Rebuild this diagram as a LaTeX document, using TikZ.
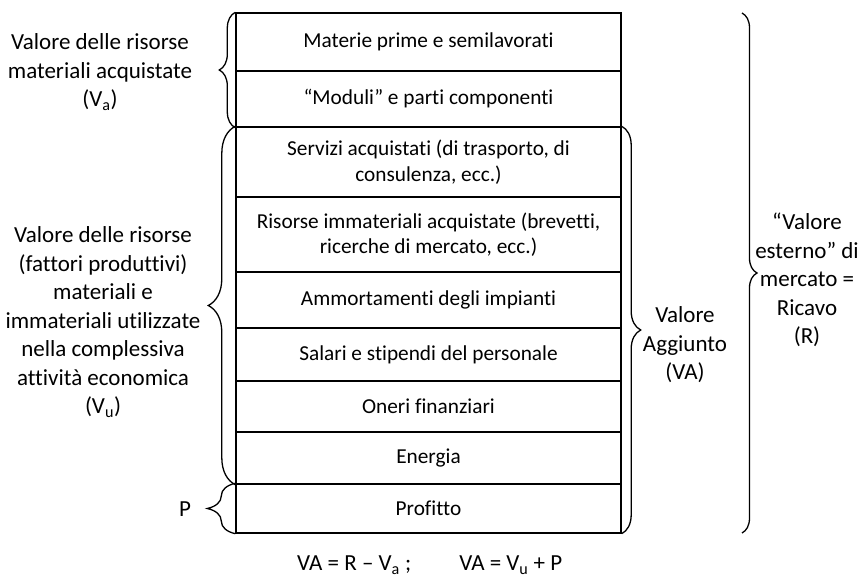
\documentclass[tikz,border=0pt]{standalone}
\usepackage{fontspec}
\setmainfont{Carlito}[Ligatures=NoCommon]
\usetikzlibrary{decorations.pathreplacing}

\tikzset{
  strato/.style={font=\fontsize{21.3}{25.5}\selectfont, draw, line width=1.4pt, minimum width=385pt, inner sep=0pt, align=center},
  etichetta/.style={font=\fontsize{23}{28.5}\selectfont, align=center, inner sep=0pt},
  graffa/.style={decorate, decoration={brace, amplitude=#1}, line width=1.3pt},
}

\begin{document}
\begin{tikzpicture}[x=1pt, y=-1pt]
  \useasboundingbox (0,0) rectangle (863,585);
  % strati del ricavo
  \node[strato, minimum height=58pt] (mat) at (428.5,42) {Materie prime e semilavorati};
  \node[strato, minimum height=56pt] (mod) at (428.5,99) {“Moduli” e parti componenti};
  \node[strato, minimum height=70pt] (serv) at (428.5,162) {Servizi acquistati (di trasporto, di\\consulenza, ecc.)};
  \node[strato, minimum height=75pt] (imm) at (428.5,234.5) {Risorse immateriali acquistate (brevetti,\\ricerche di mercato, ecc.)};
  \node[strato, minimum height=56pt] (amm) at (428.5,300) {Ammortamenti degli impianti};
  \node[strato, minimum height=53pt] (sal) at (428.5,354.5) {Salari e stipendi del personale};
  \node[strato, minimum height=51pt] (oneri) at (428.5,406.5) {Oneri finanziari};
  \node[strato, minimum height=52pt] (ener) at (428.5,458) {Energia};
  \node[strato, minimum height=49pt] (prof) at (428.5,508.5) {Profitto};
  % graffe
  \coordinate (rtop) at (742,13);
  \coordinate (rbot) at (742,533);
  \draw[graffa=16pt] (mod.south west) -- (mat.north west);
  \draw[graffa=27pt] (ener.south west) -- (serv.north west);
  \draw[graffa=28pt] (prof.south west) -- (prof.north west);
  \draw[graffa=19pt] (serv.north east) -- (prof.south east);
  \draw[graffa=15pt] (rtop) -- (rbot);
  % etichette
  \node[etichetta] (va) at (100,72) {Valore delle risorse\\materiali acquistate\\(V\textsubscript{a})};
  \node[etichetta] (vu) at (103,322) {Valore delle risorse\\(fattori produttivi)\\materiali e\\immateriali utilizzate\\nella complessiva\\attività economica\\(V\textsubscript{u})};
  \node[etichetta] (p) at (185,509) {P};
  \node[etichetta] (vagg) at (685,345) {Valore\\Aggiunto\\(VA)};
  \node[etichetta] (ric) at (807,280) {“Valore\\esterno” di\\mercato =\\Ricavo\\(R)};
  \node[etichetta, anchor=west] (formula) at (297,565) {VA = R – V\textsubscript{a} ;\hspace{48pt}VA = V\textsubscript{u} + P};
\end{tikzpicture}
\end{document}
